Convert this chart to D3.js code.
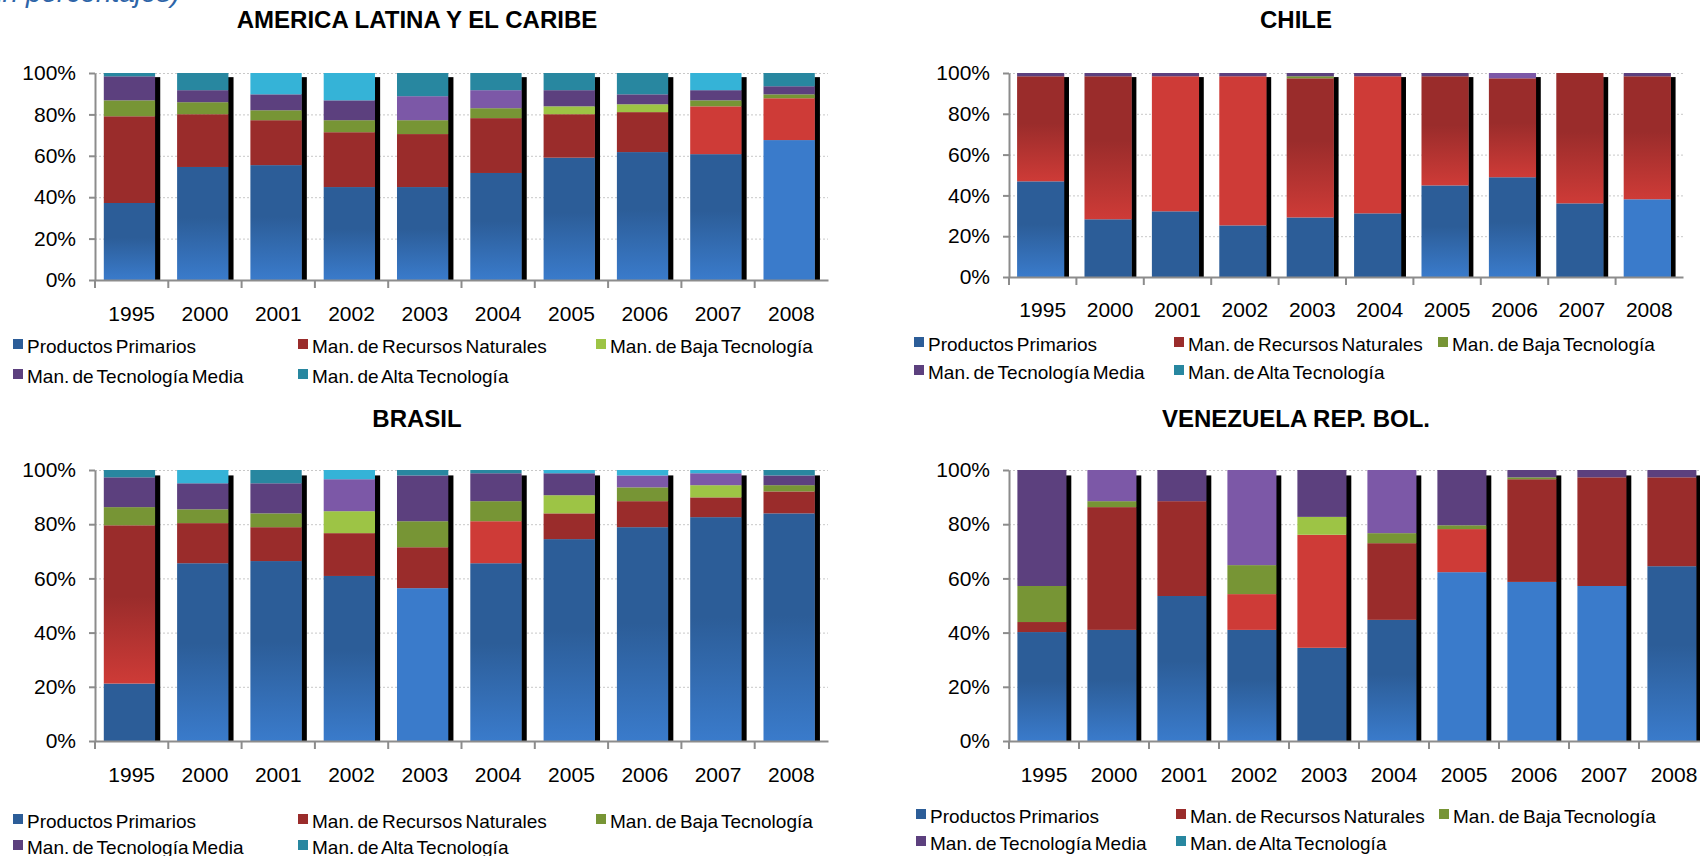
<!DOCTYPE html>
<html>
<head>
<meta charset="utf-8">
<script src="https://cdn.jsdelivr.net/npm/d3@7"></script>
<style>
  body { margin: 0; background: #fff; }
  svg { display: block; font-family: "Liberation Sans", Arial, sans-serif; }
</style>
</head>
<body>
<svg id="main" width="1700" height="856"></svg>
<script>
// ---- data (percent of exports by technology content) ----
var years = ["1995", "2000", "2001", "2002", "2003", "2004", "2005", "2006", "2007", "2008"];
var seriesNames = ["Productos Primarios", "Man. de Recursos Naturales", "Man. de Baja Tecnología",
                   "Man. de Tecnología Media", "Man. de Alta Tecnología"];
var yTicks = [0, 20, 40, 60, 80, 100];

var alcPrim  = [37.2, 54.6, 55.5, 44.9, 44.9, 51.7, 59.1, 61.8, 60.8, 67.6];
var alcRec   = [41.9, 25.5, 21.7, 26.5, 25.6, 26.5, 21.0, 19.3, 23.1, 20.2];
var alcBaja  = [7.7, 5.8, 4.8, 5.8, 6.7, 4.8, 3.8, 3.8, 2.9, 1.9];
var alcMedia = [11.6, 5.8, 7.7, 9.6, 11.6, 8.7, 7.8, 4.8, 4.9, 3.9];
var alcAlta  = [1.6, 8.3, 10.3, 13.2, 11.2, 8.3, 8.3, 10.3, 8.3, 6.4];

var chiPrim  = [46.9, 28.3, 32.2, 25.3, 29.2, 31.2, 44.9, 48.9, 36.1, 38.1];
var chiRec   = [51.5, 70.1, 66.2, 73.1, 68.2, 67.2, 53.5, 48.5, 63.9, 60.3];
var chiBaja  = [0, 0, 0, 0, 1.0, 0, 0, 0, 0, 0];
var chiMedia = [1.6, 1.6, 1.6, 1.6, 1.6, 1.6, 1.6, 2.6, 0, 1.6];
var chiAlta  = [0, 0, 0, 0, 0, 0, 0, 0, 0, 0];

var braPrim  = [21.2, 65.6, 66.4, 60.9, 56.4, 65.6, 74.5, 78.9, 82.6, 84.0];
var braRec   = [58.4, 14.8, 12.5, 15.8, 15.1, 15.5, 9.5, 9.6, 7.3, 8.1];
var braBaja  = [6.7, 5.1, 5.1, 8.1, 9.6, 7.4, 6.7, 5.1, 4.5, 2.3];
var braMedia = [11.0, 9.6, 11.1, 11.8, 16.9, 10.3, 8.1, 4.4, 4.4, 3.6];
var braAlta  = [2.7, 4.9, 4.9, 3.4, 2.0, 1.2, 1.2, 2.0, 1.2, 2.0];

var venPrim  = [40.2, 41.0, 53.5, 41.0, 34.4, 44.7, 62.3, 58.7, 57.2, 64.5];
var venRec   = [3.7, 45.3, 35.0, 13.2, 41.7, 28.3, 15.9, 37.9, 40.1, 32.8];
var venBaja  = [13.3, 2.2, 0, 10.7, 6.6, 3.7, 1.4, 0.7, 0, 0];
var venMedia = [42.8, 11.5, 11.5, 35.1, 17.3, 23.3, 20.4, 2.7, 2.7, 2.7];
var venAlta  = [0, 0, 0, 0, 0, 0, 0, 0, 0, 0];

// ---- styles ----
var darkCol  = ["#2C5D98", "#9A2C2B", "#779535", "#5C407E", "#2887A0"];
var lightCol = ["#3A7BCB", "#CE3B37", "#9DC445", "#7C58A7", "#35B3D7"];
// shade per segment: d = dark, l = light, g = dark fading to light at the bottom
var alcShade = ["gggggggggl", "ddddddddll", "ddddddlldd", "ddddlldddd", "ddllddddld"];
var chiShade = ["gdddddggdl", "ggllglgggg", "dddddddddd", "dddddddldd", "dddddddddd"];
var braShade = ["dggglggggg", "gddddldddd", "dddlddldld", "dddldddlld", "dldlddllld"];
var venShade = ["ggggdglllg", "dddlldlddd", "ddddlddddd", "dldldldddd", "dddddddddd"];

var panels = [
  { title: "AMERICA LATINA Y EL CARIBE", series: [alcPrim, alcRec, alcBaja, alcMedia, alcAlta], shade: alcShade,
    left: 95, right: 828, top: 73, bottom: 280, titleX: 417, titleY: 28, yearY: 321, legY: [353, 383],
    legX: [13, 298, 596], bajaLegend: lightCol[2] },
  { title: "CHILE", series: [chiPrim, chiRec, chiBaja, chiMedia, chiAlta], shade: chiShade,
    left: 1009, right: 1683, top: 73, bottom: 277, titleX: 1296, titleY: 28, yearY: 317, legY: [351, 379],
    legX: [914, 1174, 1438], bajaLegend: darkCol[2] },
  { title: "BRASIL", series: [braPrim, braRec, braBaja, braMedia, braAlta], shade: braShade,
    left: 95, right: 828, top: 470, bottom: 741, titleX: 417, titleY: 427, yearY: 782, legY: [828, 854],
    legX: [13, 298, 596], bajaLegend: darkCol[2] },
  { title: "VENEZUELA REP. BOL.", series: [venPrim, venRec, venBaja, venMedia, venAlta], shade: venShade,
    left: 1009, right: 1709, top: 470, bottom: 741, titleX: 1296, titleY: 427, yearY: 782, legY: [823, 850],
    legX: [916, 1176, 1439], bajaLegend: darkCol[2] }
];

var svg = d3.select("#main");
var defs = svg.append("defs");
darkCol.forEach(function (c, i) {
  var gr = defs.append("linearGradient").attr("id", "grad" + i)
    .attr("x1", 0).attr("y1", 0).attr("x2", 0).attr("y2", 1);
  gr.append("stop").attr("offset", 0).attr("stop-color", c);
  gr.append("stop").attr("offset", 0.45).attr("stop-color", c);
  gr.append("stop").attr("offset", 1).attr("stop-color", lightCol[i]);
});

function fillFor(j, code) {
  if (code == "l") return lightCol[j];
  if (code == "g") return "url(#grad" + j + ")";
  return darkCol[j];
}

// caption, cut off at the top of the page like in the source
svg.append("text")
  .attr("x", 180).attr("y", 2)
  .attr("text-anchor", "end")
  .style("font-size", "28px").style("font-style", "italic")
  .attr("fill", "#2E65A8")
  .text("(En porcentajes)");

panels.forEach(function (p) {
  var g = svg.append("g");
  var x = d3.scaleBand().domain(years).range([p.left, p.right]);
  var y = d3.scaleLinear().domain([0, 100]).range([p.bottom, p.top]);
  var bw = x.bandwidth();

  // title
  g.append("text")
    .attr("x", p.titleX)
    .attr("y", p.titleY)
    .attr("text-anchor", "middle")
    .style("font-size", "24px").style("font-weight", "bold")
    .text(p.title);

  // grid
  var grid = g.append("g").attr("transform", "translate(" + p.left + ",0)")
    .call(d3.axisLeft(y).tickValues(yTicks.slice(1)).tickSize(-(p.right - p.left)).tickFormat(""));
  grid.select(".domain").remove();
  grid.selectAll(".tick line").attr("stroke", "#c8c8c8").attr("stroke-dasharray", "2,2");

  // stacked segments
  var rows = years.map(function (yr, i) {
    var o = { year: yr };
    seriesNames.forEach(function (s, j) { o[s] = p.series[j][i]; });
    return o;
  });
  var stack = d3.stack().keys(seriesNames)(rows);

  // black shadow strip beside each bar
  g.selectAll(".shadow").data(years).enter().append("rect")
    .attr("x", function (d) { return x(d) + bw * 0.815; })
    .attr("y", y(98))
    .attr("width", bw * 0.075)
    .attr("height", y(0) - y(98))
    .attr("fill", "#000");

  stack.forEach(function (layer, j) {
    g.append("g").selectAll("rect").data(layer).enter().append("rect")
      .attr("x", function (d) { return x(d.data.year) + bw * 0.12; })
      .attr("width", bw * 0.7)
      .attr("y", function (d) { return y(d[1]); })
      .attr("height", function (d) { return Math.max(0, y(d[0]) - y(d[1])); })
      .attr("fill", function (d, i) { return fillFor(j, p.shade[j][i]); });
  });

  // y axis
  var ya = g.append("g").attr("transform", "translate(" + p.left + ",0)")
    .call(d3.axisLeft(y).tickValues(yTicks).tickSize(6).tickSizeOuter(0).tickPadding(13)
      .tickFormat(function (d) { return d + "%"; }));
  ya.select(".domain").attr("stroke", "#8c8c8c").attr("stroke-width", 2);
  ya.selectAll(".tick line").attr("stroke", "#8c8c8c").attr("stroke-width", 2);
  ya.selectAll("text").style("font-size", "21px").attr("fill", "#000").style("font-family", "Liberation Sans, Arial, sans-serif");

  // x axis: labels under bars, ticks on band edges
  var xa = g.append("g").attr("transform", "translate(0," + p.bottom + ")")
    .call(d3.axisBottom(x).tickSize(0).tickSizeOuter(0).tickPadding(p.yearY - p.bottom - 15));
  xa.select(".domain").attr("stroke", "#8c8c8c").attr("stroke-width", 2);
  xa.selectAll("text").style("font-size", "21px").attr("fill", "#000").style("font-family", "Liberation Sans, Arial, sans-serif");
  g.selectAll(".xtick").data(years).enter().append("line")
    .attr("x1", function (d) { return x(d); }).attr("x2", function (d) { return x(d); })
    .attr("y1", p.bottom).attr("y2", p.bottom + 8)
    .attr("stroke", "#8c8c8c").attr("stroke-width", 2);

  // legend: three items on the first row, two on the second
  seriesNames.forEach(function (s, j) {
    var row = j < 3 ? 0 : 1;
    var col = j < 3 ? j : j - 3;
    var lx = p.legX[col], ly = p.legY[row];
    g.append("rect")
      .attr("x", lx).attr("y", ly - 14)
      .attr("width", 10).attr("height", 10)
      .attr("fill", j == 2 ? p.bajaLegend : darkCol[j]);
    g.append("text")
      .attr("x", lx + 14).attr("y", ly)
      .style("font-size", "19px").style("word-spacing", "-2px")
      .text(s);
  });
});
</script>
</body>
</html>
